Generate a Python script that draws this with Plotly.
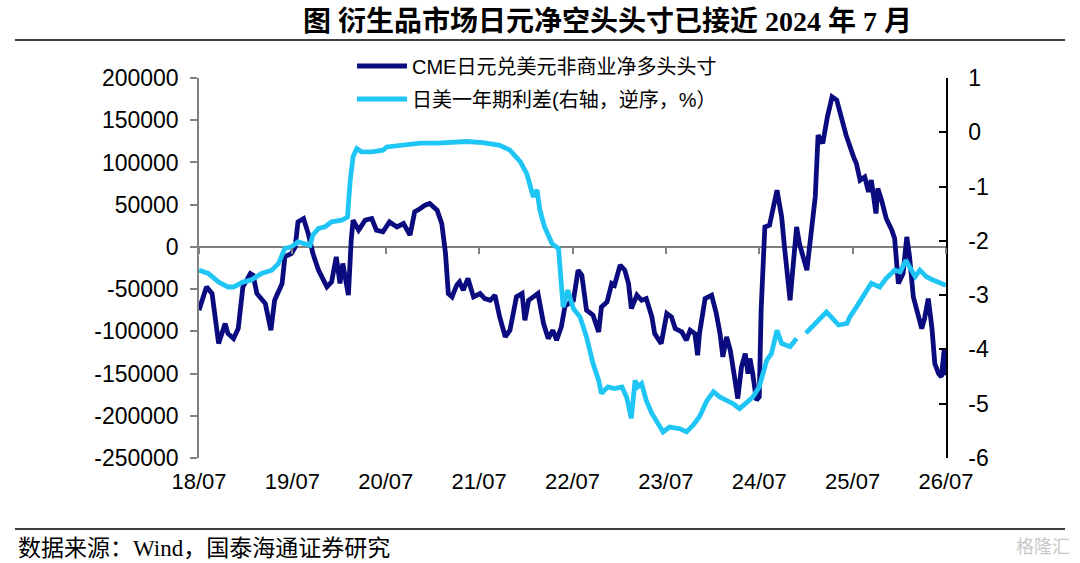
import plotly.graph_objects as go

# CME 日元兑美元非商业净多头头寸（张），时间用小数年份表示
cme_t = [
    2018.50, 2018.58, 2018.64, 2018.71, 2018.78, 2018.81, 2018.87, 2018.92, 2018.97, 2019.05,
    2019.08, 2019.12, 2019.21, 2019.27, 2019.31, 2019.39, 2019.42, 2019.49, 2019.53, 2019.56,
    2019.62, 2019.67, 2019.72, 2019.78, 2019.87, 2019.92, 2019.97, 2020.01, 2020.04, 2020.10,
    2020.13, 2020.15, 2020.21, 2020.28, 2020.35, 2020.40, 2020.47, 2020.54, 2020.62, 2020.69,
    2020.76, 2020.81, 2020.87, 2020.92, 2020.97, 2021.05, 2021.10, 2021.14, 2021.17, 2021.21,
    2021.26, 2021.29, 2021.33, 2021.38, 2021.44, 2021.51, 2021.56, 2021.62, 2021.67, 2021.72,
    2021.78, 2021.83, 2021.90, 2021.96, 2021.99, 2022.03, 2022.08, 2022.13, 2022.19, 2022.24,
    2022.29, 2022.33, 2022.38, 2022.42, 2022.51, 2022.56, 2022.60, 2022.65, 2022.72, 2022.78,
    2022.81, 2022.87, 2022.92, 2022.95, 2023.01, 2023.06, 2023.10, 2023.13, 2023.19, 2023.24,
    2023.29, 2023.35, 2023.38, 2023.45, 2023.51, 2023.56, 2023.60, 2023.67, 2023.72, 2023.76,
    2023.81, 2023.84, 2023.86, 2023.92, 2023.99, 2024.04, 2024.08, 2024.11, 2024.15, 2024.19,
    2024.24, 2024.27, 2024.31, 2024.35, 2024.38, 2024.40, 2024.43, 2024.47, 2024.50, 2024.52,
    2024.56, 2024.61, 2024.69, 2024.74, 2024.77, 2024.83, 2024.90, 2024.93, 2025.01, 2025.06,
    2025.10, 2025.13, 2025.18, 2025.23, 2025.28, 2025.33, 2025.38, 2025.43, 2025.51, 2025.54,
    2025.58, 2025.63, 2025.67, 2025.70, 2025.75, 2025.77, 2025.81, 2025.86, 2025.92, 2025.95,
    2025.99, 2026.04, 2026.08, 2026.11, 2026.15, 2026.20, 2026.24, 2026.27, 2026.31, 2026.35,
    2026.38, 2026.42, 2026.45, 2026.48, 2026.50,
]
cme_pos = [
    -75000, -47400, -55200, -114400, -90800, -102600, -108500, -96700, -47400, -31500,
    -33500, -55200, -67000, -98700, -63200, -43400, -11800, -7800, 0, 29600,
    33600, 15800, -7900, -27600, -47400, -41500, -11800, -43400, -19700, -57200,
    8000, 31600, 19800, 31600, 33600, 19800, 17800, 29600, 23700, 27700,
    13900, 41500, 45500, 49400, 51400, 43500, 27700, -7900, -55200, -59200,
    -45400, -41500, -51300, -37400, -59200, -55200, -61200, -63200, -57200, -82900,
    -106600, -98700, -59200, -55200, -86800, -63200, -59200, -55200, -90800, -108500,
    -98700, -110500, -94800, -70000, -63200, -27600, -33500, -75000, -80900, -100700,
    -71100, -65200, -43400, -45400, -21700, -27600, -43400, -73000, -57200, -63200,
    -61200, -82900, -102600, -114500, -78900, -82900, -96700, -100700, -110500, -98700,
    -102600, -128300, -102600, -61200, -57200, -78900, -102600, -130300, -106600, -122400,
    -157900, -179600, -142200, -126300, -150000, -132200, -150000, -181600, -177700, -75000,
    23700, 25700, 67200, 35500, 0, -63200, 23700, 4000, -27600, 19800,
    59200, 132300, 122500, 154000, 177700, 173800, 154000, 132300, 106600, 98800,
    79000, 82900, 65200, 79000, 39500, 69200, 55300, 33600, 19800, 9900,
    -43400, -31500, 11800, -11800, -59200, -78900, -96700, -84900, -61200, -96700,
    -138200, -150000, -154000, -122400, -152000,
]

# 日美一年期利差（%，右轴）
spread_t = [
    2018.50, 2018.60, 2018.71, 2018.81, 2018.87, 2018.97, 2019.06, 2019.17, 2019.28, 2019.35,
    2019.42, 2019.49, 2019.56, 2019.63, 2019.69, 2019.72, 2019.78, 2019.85, 2019.92, 2020.03,
    2020.09, 2020.12, 2020.15, 2020.19, 2020.24, 2020.35, 2020.47, 2020.51, 2020.69, 2020.87,
    2021.05, 2021.22, 2021.37, 2021.54, 2021.72, 2021.83, 2021.94, 2022.01, 2022.08, 2022.12,
    2022.15, 2022.20, 2022.28, 2022.35, 2022.38, 2022.40, 2022.45, 2022.51, 2022.58, 2022.65,
    2022.72, 2022.78, 2022.81, 2022.88, 2022.95, 2023.03, 2023.08, 2023.13, 2023.17, 2023.20,
    2023.24, 2023.29, 2023.35, 2023.40, 2023.47, 2023.54, 2023.65, 2023.72, 2023.79, 2023.86,
    2023.94, 2024.01, 2024.08, 2024.15, 2024.22, 2024.29, 2024.36, 2024.43, 2024.50, 2024.58,
    2024.63, 2024.69, 2024.74, 2024.83, 2024.90, 2024.95, 2025.00, 2025.05, 2025.15, 2025.22,
    2025.27, 2025.35, 2025.44, 2025.47, 2025.54, 2025.63, 2025.70, 2025.79, 2025.86, 2025.95,
    2026.01, 2026.07, 2026.11, 2026.17, 2026.22, 2026.29, 2026.36, 2026.43, 2026.50,
]
spread_pct = [
    -2.54, -2.60, -2.76, -2.85, -2.85, -2.76, -2.72, -2.60, -2.54, -2.42,
    -2.14, -2.11, -2.02, -2.05, -2.08, -1.89, -1.77, -1.74, -1.65, -1.62,
    -1.56, -0.88, -0.45, -0.30, -0.36, -0.36, -0.33, -0.27, -0.24, -0.20,
    -0.20, -0.19, -0.17, -0.19, -0.24, -0.33, -0.54, -0.76, -1.19, -1.06,
    -1.43, -1.74, -2.05, -2.14, -2.66, -3.22, -2.91, -3.25, -3.40, -3.77,
    -4.26, -4.57, -4.81, -4.69, -4.72, -4.69, -4.88, -5.27, -4.57, -4.69,
    -4.63, -4.94, -5.18, -5.31, -5.52, -5.43, -5.46, -5.52, -5.40, -5.24,
    -4.94, -4.78, -4.88, -4.94, -5.00, -5.09, -4.97, -4.88, -4.69, -4.20,
    -4.08, -3.65, -3.89, -3.95, -3.80, None, -3.70, -3.61, -3.46, -3.31,
    -3.40, -3.55, -3.52, -3.40, -3.22, -2.97, -2.78, -2.85, -2.69, -2.54,
    -2.57, -2.36, -2.48, -2.66, -2.54, -2.66, -2.72, -2.76, -2.82,
]

x_tickvals = [2018.5, 2019.5, 2020.5, 2021.5, 2022.5, 2023.5, 2024.5, 2025.5, 2026.5]
x_ticktext = ["18/07", "19/07", "20/07", "21/07", "22/07", "23/07", "24/07", "25/07", "26/07"]
y_tickvals = [200000, 150000, 100000, 50000, 0, -50000, -100000, -150000, -200000, -250000]
y_ticktext = ["200000", "150000", "100000", "50000", "0", "-50000", "-100000",
              "-150000", "-200000", "-250000"]
y2_tickvals = [1, 0, -1, -2, -3, -4, -5, -6]
y2_ticktext = ["1", "0", "-1", "-2", "-3", "-4", "-5", "-6"]

NAVY = "#0b0b80"
SKY = "#1fc6f5"
SANS = "Liberation Sans, Arial, Noto Sans CJK SC, sans-serif"
SERIF = "Liberation Serif, Times New Roman, Noto Sans CJK SC, serif"

W, H = 1080, 563
L, R, T, B = 199, 946, 78, 458  # plot area in pixels


def px_x(px):
    return (px - L) / (R - L)


def px_y(py):
    return (B - py) / (B - T)


fig = go.Figure()
fig.add_trace(go.Scatter(
    x=cme_t, y=cme_pos, mode="lines", name="CME日元兑美元非商业净多头头寸",
    line=dict(color=NAVY, width=4.8), legend="legend",
))
fig.add_trace(go.Scatter(
    x=spread_t, y=spread_pct, mode="lines", name="日美一年期利差(右轴，逆序，%）",
    line=dict(color=SKY, width=4.8), yaxis="y2", connectgaps=False, legend="legend2",
))
# invisible trace so the tick-mark axis sitting on the zero line gets drawn
fig.add_trace(go.Scatter(
    x=x_tickvals, y=[0] * len(x_tickvals), xaxis="x2", mode="lines",
    line=dict(width=0), opacity=0, showlegend=False, hoverinfo="skip",
))

legend_style = dict(
    x=px_x(352), xanchor="left", yanchor="middle",
    bgcolor="rgba(0,0,0,0)", font=dict(size=20, family=SANS), itemwidth=50,
)

fig.update_layout(
    width=W, height=H,
    margin=dict(l=L, r=W - R, t=T, b=H - B),
    paper_bgcolor="white", plot_bgcolor="white",
    font=dict(family=SANS, size=23, color="black"),
    showlegend=True,
    legend=dict(y=px_y(66), **legend_style),
    legend2=dict(y=px_y(99), **legend_style),
    xaxis=dict(
        range=[2018.5, 2026.5], tickvals=x_tickvals, ticktext=x_ticktext,
        showgrid=False, zeroline=False, showline=False, ticks="",
        ticklabelstandoff=8, tickfont=dict(size=22),
    ),
    xaxis2=dict(
        range=[2018.5, 2026.5], tickvals=x_tickvals, overlaying="x",
        anchor="free", position=250000 / 450000, showticklabels=False,
        ticks="outside", ticklen=6, tickwidth=1.5, tickcolor="#808080",
        showgrid=False, zeroline=False, showline=False,
    ),
    yaxis=dict(
        range=[-250000, 200000], tickvals=y_tickvals, ticktext=y_ticktext,
        showgrid=False, showline=True, linecolor="#808080", linewidth=1.5,
        ticks="outside", ticklen=7, tickwidth=1.5, tickcolor="#808080",
        zeroline=True, zerolinecolor="#808080", zerolinewidth=1.5,
        tickfont=dict(size=23), ticklabelstandoff=7,
    ),
    yaxis2=dict(
        range=[-6, 1], tickvals=y2_tickvals, ticktext=y2_ticktext,
        overlaying="y", side="right", showgrid=False, zeroline=False,
        showline=True, linecolor="black", linewidth=1.5,
        ticks="inside", ticklen=7, tickwidth=1.5, tickcolor="black",
        tickfont=dict(size=23), ticklabelstandoff=16,
    ),
)

# title and rules
fig.add_annotation(
    text="<b>图 衍生品市场日元净空头头寸已接近 2024 年 7 月</b>",
    xref="paper", yref="paper", x=px_x(607), y=px_y(22),
    xanchor="center", yanchor="middle", showarrow=False,
    font=dict(family=SERIF, size=28, color="black"),
)
for y_px in (40, 529):
    fig.add_shape(
        type="line", xref="paper", yref="paper",
        x0=px_x(15), x1=px_x(1065), y0=px_y(y_px), y1=px_y(y_px),
        line=dict(color="black", width=1.5),
    )
fig.add_annotation(
    text="数据来源：Wind，国泰海通证券研究",
    xref="paper", yref="paper", x=px_x(16), y=px_y(548),
    xanchor="left", yanchor="middle", showarrow=False,
    font=dict(family=SERIF, size=23, color="black"),
)
fig.add_annotation(
    text="格隆汇",
    xref="paper", yref="paper", x=px_x(1072), y=px_y(547),
    xanchor="right", yanchor="middle", showarrow=False,
    font=dict(family=SANS, size=18, color="#c8c8c8"),
)

fig.write_html(
    "out.html",
    config={"displayModeBar": False},
    post_script="document.body.style.margin='0';",
)
